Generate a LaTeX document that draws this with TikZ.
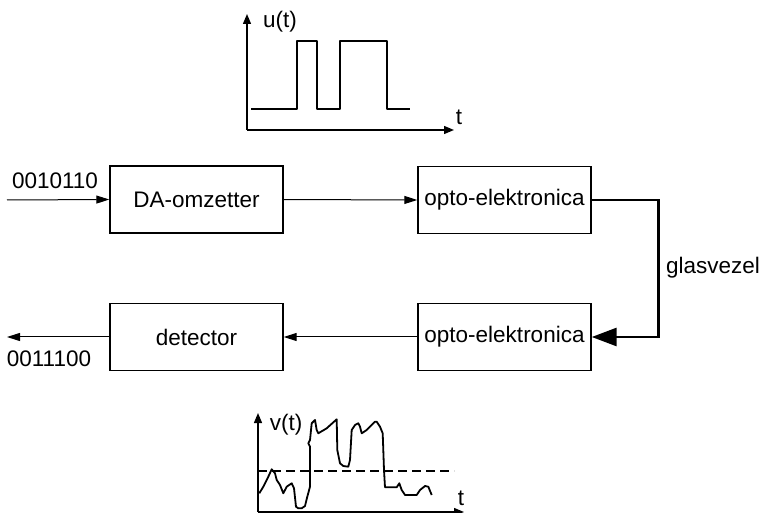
\documentclass[tikz,border=0pt]{standalone}
\usepackage{fontspec}
\setmainfont{Liberation Sans}
\usetikzlibrary{arrows.meta}
\begin{document}
\begin{tikzpicture}[x=1pt,y=-1pt,
  txt/.style={font=\fontsize{22.5}{26}\selectfont, inner sep=0pt},
  blk/.style={draw, line width=1.4pt, minimum width=173pt, minimum height=67pt,
    inner sep=0pt, font=\fontsize{22.5}{26}\selectfont},
  arr/.style={line width=1pt, -{Triangle[length=13pt,width=8pt]}},
  fiber/.style={line width=2.8pt, -{Triangle[length=25pt,width=18pt]}},
  axis/.style={line width=1.3pt, -{Triangle[length=10pt,width=8pt]}},
  sig/.style={line width=1.8pt, line join=round},
]
\useasboundingbox (0,0) rectangle (761,513);

% blocks of the link
\node[blk] (da) at (196.5,199.5) {DA-omzetter};
\node[blk] (oe1) at (504.5,200) {opto-elektronica};
\node[blk] (oe2) at (504.5,337) {opto-elektronica};
\node[blk] (det) at (196.5,337) {detector};

% input and output bit streams
\coordinate (bin) at (7,200);
\coordinate (bout) at (7,337);
\node[txt] (lin) at (55,181) {0010110};
\node[txt] (lout) at (49,359) {0011100};

\draw[arr] (bin) -- (da.west);
\draw[arr] (da.east) -- (oe1.west);
\draw[fiber] (oe1.east) -- ++(67,0) |- (oe2.east);
\node[txt, anchor=west] (glas) at (666,268) {glasvezel};
\draw[arr] (oe2.west) -- (det.east);
\draw[arr] (det.west) -- (bout);

% transmitted signal u(t)
\coordinate (uo) at (247,130);
\coordinate (uy) at (247,14);
\coordinate (ux) at (454,130);
\draw[axis] (uo) -- (uy);
\draw[axis] (uo) -- (ux);
\node[txt] (ul) at (280,22) {u(t)};
\node[txt] (ut) at (459,117) {t};
\draw[sig] (251,109) -- (297,109) -- (297,41) -- (317,41) -- (317,109)
  -- (340,109) -- (340,41) -- (387,41) -- (387,109) -- (410,109);

% received signal v(t)
\coordinate (vo) at (258,512);
\coordinate (vy) at (258,413);
\coordinate (vx) at (464,512);
\draw[axis] (vo) -- (vy);
\draw[axis] (vo) -- (vx);
\node[txt] (vl) at (286,425) {v(t)};
\node[txt] (vt) at (461,498) {t};
\draw[line width=1.4pt, dash pattern=on 9pt off 5pt] (258,471) -- (454,471);
\draw[sig] (259.3,493.3) -- (263.3,486.7) -- (268.3,476.7) -- (271.7,469.3)
  -- (275,473.3) -- (276.7,480) -- (280,485) -- (283.3,493.3) -- (286.7,486.7)
  -- (291.7,483.3) -- (294,488.3) -- (296,506.7) -- (298.3,508.3) -- (301.7,508.3)
  -- (305,506) -- (307.3,496.7) -- (310,486.7) -- (310,446.7) -- (308.3,443.3)
  -- (310,440) -- (311.7,423.3) -- (315,420) -- (316.7,430) -- (318.3,433.3)
  -- (326.7,428.3) -- (336.7,419.3) -- (337.3,450) -- (340,463.3) -- (343.3,466)
  -- (348.3,466.7) -- (350,460) -- (351.7,430) -- (355,425) -- (358.3,423.3)
  -- (360,426.7) -- (361.7,433.3) -- (366.7,430) -- (370,426.7) -- (375,421.7)
  -- (376.7,421.7) -- (380,426.7) -- (382.7,433.3) -- (383.3,450) -- (384,470)
  -- (385,487.3) -- (396.7,487.3) -- (399.3,483.3) -- (401.7,490) -- (405,495)
  -- (416.7,495) -- (420,490) -- (425,486) -- (428.3,486.7) -- (431.7,495);
\end{tikzpicture}
\end{document}
